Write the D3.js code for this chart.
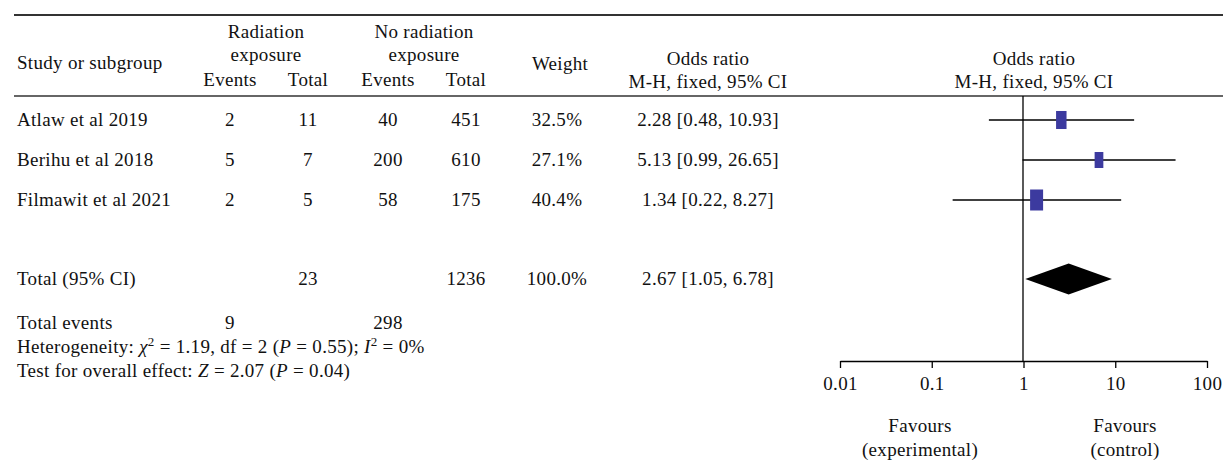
<!DOCTYPE html>
<html>
<head>
<meta charset="utf-8">
<script src="https://cdn.jsdelivr.net/npm/d3@7"></script>
<style>
  body { margin: 0; background: #fff; }
  svg text { font-family: "Liberation Serif", "Times New Roman", serif; font-size: 19px; fill: #111; letter-spacing: 0.3px; }
</style>
</head>
<body>
<script>
var width = 1223,
    height = 461;

// study data
var studies = ['Atlaw et al 2019', 'Berihu et al 2018', 'Filmawit et al 2021'];
var expEvents = [2, 5, 2];
var expTotal = [11, 7, 5];
var ctrlEvents = [40, 200, 58];
var ctrlTotal = [451, 610, 175];
var weights = [32.5, 27.1, 40.4];
var oddsRatio = [2.28, 5.13, 1.34];
var ciLow = [0.48, 0.99, 0.22];
var ciHigh = [10.93, 26.65, 8.27];

// pooled
var totalExp = 23, totalCtrl = 1236, totalWeight = 100.0;
var totalOR = 2.67, totalLow = 1.05, totalHigh = 6.78;
var totalExpEvents = 9, totalCtrlEvents = 298;

var axisTicks = [0.01, 0.1, 1, 10, 100];

var svg = d3.select('body')
    .append('svg')
    .attr('width', width)
    .attr('height', height);

// column centres
var col = { name: 17, ev1: 230, tot1: 308, ev2: 388, tot2: 466, weight: 557, or: 708 };

var rowY = d3.scalePoint().domain(studies).range([120, 200]);
var totalY = 279;

// scale used for the marks, and the one for the printed axis
var x = d3.scaleLog().domain([0.01, 100]).range([809, 1237]);
var xAxisScale = d3.scaleLog().domain([0.01, 100]).range([840, 1207]);

var fmt2 = d3.format('.2f');
function ciText(o, l, h) { return fmt2(o) + ' [' + fmt2(l) + ', ' + fmt2(h) + ']'; }

// rules
svg.append('line').attr('x1', 14).attr('x2', width).attr('y1', 15).attr('y2', 15)
  .attr('stroke', '#333').attr('stroke-width', 1.8);
svg.append('line').attr('x1', 14).attr('x2', width).attr('y1', 96).attr('y2', 96)
  .attr('stroke', '#333').attr('stroke-width', 1.5);

function txt(x0, y0, s, anchor) {
  return svg.append('text').attr('x', x0).attr('y', y0)
    .attr('text-anchor', anchor || 'middle').text(s);
}

// header
txt(col.name, 69, 'Study or subgroup', 'start');
txt((col.ev1 + col.tot1) / 2 - 3, 38, 'Radiation');
txt((col.ev1 + col.tot1) / 2 - 3, 61, 'exposure');
txt(col.ev1, 86, 'Events');
txt(col.tot1, 86, 'Total');
txt((col.ev2 + col.tot2) / 2 - 3, 38, 'No radiation');
txt((col.ev2 + col.tot2) / 2 - 3, 61, 'exposure');
txt(col.ev2, 86, 'Events');
txt(col.tot2, 86, 'Total');
txt(560, 70, 'Weight');
txt(col.or, 65, 'Odds ratio');
txt(col.or, 88, 'M-H, fixed, 95% CI');
txt(1034, 65, 'Odds ratio');
txt(1034, 88, 'M-H, fixed, 95% CI');

// study rows
studies.forEach(function(s, i) {
  var y = rowY(s) + 6;
  txt(col.name, y, s, 'start');
  txt(col.ev1, y, expEvents[i]);
  txt(col.tot1, y, expTotal[i]);
  txt(col.ev2, y, ctrlEvents[i]);
  txt(col.tot2, y, ctrlTotal[i]);
  txt(col.weight, y, weights[i].toFixed(1) + '%');
  txt(col.or, y, ciText(oddsRatio[i], ciLow[i], ciHigh[i]));
});

// total rows
txt(col.name, totalY + 6, 'Total (95% CI)', 'start');
txt(col.tot1, totalY + 6, totalExp);
txt(col.tot2, totalY + 6, totalCtrl);
txt(col.weight, totalY + 6, totalWeight.toFixed(1) + '%');
txt(col.or, totalY + 6, ciText(totalOR, totalLow, totalHigh));

txt(col.name, 329, 'Total events', 'start');
txt(col.ev1, 329, totalExpEvents);
txt(col.ev2, 329, totalCtrlEvents);

var het = svg.append('text').attr('x', col.name).attr('y', 353);
het.append('tspan').text('Heterogeneity: ');
het.append('tspan').style('font-style', 'italic').text('\u03C7');
het.append('tspan').attr('dy', -7).style('font-size', '13px').text('2');
het.append('tspan').attr('dy', 7).text(' = 1.19, df = 2 (');
het.append('tspan').style('font-style', 'italic').text('P');
het.append('tspan').text(' = 0.55); ');
het.append('tspan').style('font-style', 'italic').text('I');
het.append('tspan').attr('dy', -7).style('font-size', '13px').text('2');
het.append('tspan').attr('dy', 7).text(' = 0%');

var test = svg.append('text').attr('x', col.name).attr('y', 377);
test.append('tspan').text('Test for overall effect: ');
test.append('tspan').style('font-style', 'italic').text('Z');
test.append('tspan').text(' = 2.07 (');
test.append('tspan').style('font-style', 'italic').text('P');
test.append('tspan').text(' = 0.04)');

// null line
svg.append('line')
  .attr('x1', x(1)).attr('x2', x(1))
  .attr('y1', 96).attr('y2', 361)
  .attr('stroke', '#000').attr('stroke-width', 1.3);

// CI lines
svg.selectAll('.ci')
  .data(studies)
  .enter().append('line')
  .attr('class', 'ci')
  .attr('x1', function(d, i) { return x(ciLow[i]); })
  .attr('x2', function(d, i) { return x(ciHigh[i]); })
  .attr('y1', function(d) { return rowY(d); })
  .attr('y2', function(d) { return rowY(d); })
  .attr('stroke', '#000').attr('stroke-width', 1.3);

var boxW = d3.scaleLinear().domain([0, 40.4]).range([0, 13]);
var boxH = d3.scaleLinear().domain([27.1, 40.4]).range([16, 21]);

svg.selectAll('.box')
  .data(studies)
  .enter().append('rect')
  .attr('class', 'box')
  .attr('x', function(d, i) { return x(oddsRatio[i]) - boxW(weights[i]) / 2; })
  .attr('y', function(d, i) { return rowY(d) - boxH(weights[i]) / 2; })
  .attr('width', function(d, i) { return boxW(weights[i]); })
  .attr('height', function(d, i) { return boxH(weights[i]); })
  .attr('fill', '#3c3a9f');

// pooled diamond
svg.append('path')
  .attr('d', d3.line()([
    [x(totalLow), totalY],
    [x(totalOR), totalY - 15.5],
    [x(totalHigh), totalY],
    [x(totalOR), totalY + 15.5]
  ]) + 'Z')
  .attr('fill', '#000');

// axis
var axis = svg.append('g')
  .attr('transform', 'translate(0,361)')
  .call(d3.axisBottom(xAxisScale)
    .tickValues(axisTicks)
    .tickFormat(function(d) { return String(d); })
    .tickSize(7)
    .tickSizeOuter(0)
    .tickPadding(9));
axis.select('.domain').attr('stroke', '#000').attr('stroke-width', 1.3);
axis.selectAll('.tick line').attr('stroke', '#000').attr('stroke-width', 1.3);
axis.selectAll('.tick text')
  .style('font-family', '"Liberation Serif", serif')
  .style('font-size', '19px')
  .attr('fill', '#111');

txt(920, 432, 'Favours');
txt(920, 456, '(experimental)');
txt(1125, 432, 'Favours');
txt(1125, 456, '(control)');
</script>
</body>
</html>
